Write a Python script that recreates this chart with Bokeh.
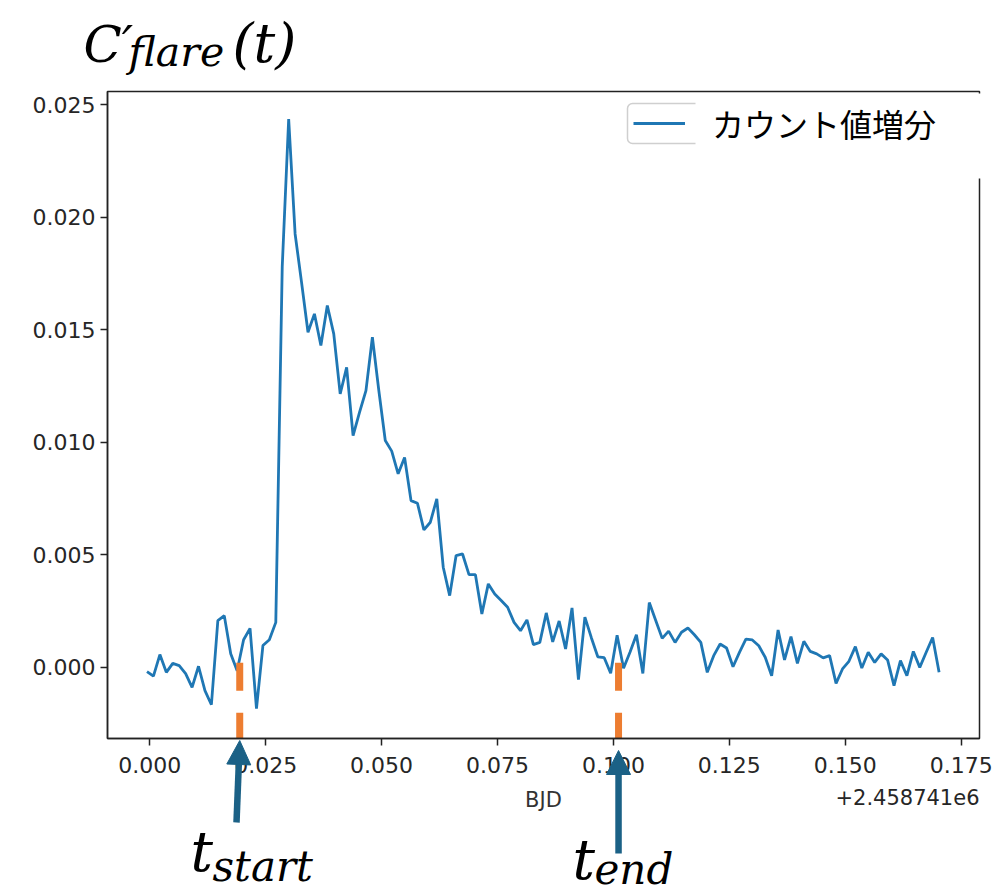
from bokeh.plotting import figure
from bokeh.models import (Range1d, Label, Arrow, NormalHead, BoxAnnotation,
                          Legend, LegendItem, FixedTicker, NumeralTickFormatter)
from bokeh.embed import file_html
from bokeh.resources import INLINE

# ---- data: flare count increment sampled at a 2-minute cadence (BJD - 2458741) ----
T_FIRST = -0.0006
CADENCE = 2 / 1440

counts = [
    -0.0002, -0.0004, 0.00056, -0.00023, 0.00017, 0.00007, -0.00029, -0.0009,
    0.00004, -0.00104, -0.00167, 0.00207, 0.00229, 0.0006, -0.00016, 0.00122,
    0.00172, -0.00184, 0.00096, 0.00122, 0.00199, 0.0178, 0.02436, 0.01925,
    0.0171, 0.01488, 0.0157, 0.01429, 0.01607, 0.01481, 0.01214, 0.01332,
    0.01029, 0.01132, 0.01229, 0.01466, 0.01229, 0.01007, 0.0096, 0.00859,
    0.00932, 0.0074, 0.00728, 0.0061, 0.00644, 0.00748, 0.00444, 0.00318,
    0.00496, 0.00503, 0.00411, 0.00411, 0.00236, 0.0037, 0.00325, 0.00296,
    0.00266, 0.00199, 0.00162, 0.0021, 0.001, 0.0011, 0.00241, 0.00112,
    0.00205, 0.00081, 0.00263, -0.00055, 0.00222, 0.00131, 0.00046, 0.00042,
    -0.00027, 0.00142, -0.00005, 0.00066, 0.00144, -0.00028, 0.00287, 0.00207,
    0.00128, 0.0016, 0.0011, 0.00155, 0.00174, 0.00144, 0.0011, -0.00023,
    0.00051, 0.00103, 0.00085, 0.00002, 0.00066, 0.00125, 0.00121, 0.00095,
    0.00044, -0.00038, 0.00165, 0.00032, 0.00136, 0.00017, 0.00115, 0.0007,
    0.00059, 0.00041, 0.00051, -0.00072, -0.00008, 0.00026, 0.00091, -0.00004,
    0.00066, 0.00021, 0.00059, 0.00032, -0.00082, 0.00029, -0.00038, 0.0007,
    -0.00001, 0.00066, 0.00132, -0.00023,
]
times = [T_FIRST + i * CADENCE for i in range(len(counts))]

# flare start / end times and the level where their markers begin
T_START = 0.0194
T_END = 0.1011
MARK_TOP = 0.0002

X_TICKS = [0.0, 0.025, 0.05, 0.075, 0.1, 0.125, 0.15, 0.175]
Y_TICKS = [0.0, 0.005, 0.01, 0.015, 0.02, 0.025]
X_LABEL = "BJD"
X_OFFSET_TEXT = "+2.458741e6"
LEGEND_LABEL = "カウント値増分"

# ---- layout ----
W, H = 997, 896
FL, FT, FR, FB = 107, 91, 979, 738      # plotting box edges in pixels
X0, X1 = -0.00912, 0.17895              # data limits of the plotting box
Y0, Y1 = -0.00317, 0.02558


def dx(px):
    return X0 + (px - FL) / (FR - FL) * (X1 - X0)


def dy(py):
    return Y1 - (py - FT) / (FB - FT) * (Y1 - Y0)


BLUE = "#1f77b4"
ORANGE = "#ED7D31"
ARROW = "#1B6186"
INK = "#222222"

# the canvas is one frame; the axes sit at fixed positions inside it so that
# annotations can be drawn around the plotting box
p = figure(width=W, height=H, x_range=Range1d(dx(0), dx(W)), y_range=Range1d(dy(H), dy(0)),
           output_backend="svg", toolbar_location=None,
           min_border_left=0, min_border_right=0, min_border_top=0, min_border_bottom=0)
p.background_fill_color = "white"
p.border_fill_color = "white"
p.outline_line_color = None
p.xgrid.visible = False
p.ygrid.visible = False

for ax in (p.xaxis[0], p.yaxis[0]):
    ax.axis_line_color = INK
    ax.axis_line_width = 1.5
    ax.major_tick_line_color = INK
    ax.major_tick_line_width = 1.5
    ax.major_tick_out = 7
    ax.major_tick_in = 0
    ax.minor_tick_out = 0
    ax.minor_tick_in = 0
    ax.major_label_text_font = "DejaVu Sans"
    ax.major_label_text_font_size = "22px"
    ax.major_label_text_color = "#262626"
    ax.formatter = NumeralTickFormatter(format="0.000")

xa, ya = p.xaxis[0], p.yaxis[0]
xa.ticker = FixedTicker(ticks=X_TICKS)
ya.ticker = FixedTicker(ticks=Y_TICKS)
xa.fixed_location = Y0
xa.bounds = (X0, X1)
ya.fixed_location = X0
ya.bounds = (Y0, Y1)
xa.major_label_standoff = 11
ya.major_label_standoff = 5
xa.axis_label = X_LABEL
xa.axis_label_text_font = "DejaVu Sans"
xa.axis_label_text_font_style = "normal"
xa.axis_label_text_font_size = "21px"
xa.axis_label_text_color = "#333333"
xa.axis_label_standoff = 12

# box around the plotting area
p.add_layout(BoxAnnotation(left=X0, right=X1, bottom=Y0, top=Y1, fill_alpha=0,
                           line_color=INK, line_alpha=1, line_width=1.5))

# light curve
line = p.line(times, counts, line_color=BLUE, line_width=2.8)

# dashed markers at flare start and end
p.segment(x0=[T_START, T_END], y0=[MARK_TOP, MARK_TOP], x1=[T_START, T_END], y1=[Y0, Y0],
          line_color=ORANGE, line_width=7, line_dash="28 22")

# offset text of the time axis
p.add_layout(Label(x=dx(FR), y=dy(788), text=X_OFFSET_TEXT, text_align="right",
                   text_baseline="top", text_font="DejaVu Sans", text_font_size="21px",
                   text_color="#262626"))

# legend: frame stub, white patch, then the entry itself
p.add_layout(BoxAnnotation(left=dx(627), right=dx(730), top=dy(103), bottom=dy(143),
                           fill_color="white", fill_alpha=1, line_color="#cfcfcf",
                           line_alpha=1, line_width=1.5, border_radius=5))
p.add_layout(BoxAnnotation(left=dx(695), right=dx(992), top=dy(93), bottom=dy(178),
                           fill_color="white", fill_alpha=1, line_color=None))
legend = Legend(items=[LegendItem(label=LEGEND_LABEL, renderers=[line])],
                location=(633, H - 146), padding=0, spacing=0, margin=0,
                glyph_width=52, glyph_height=30, label_height=30, label_standoff=27,
                border_line_color=None, background_fill_alpha=0,
                label_text_font="Noto Sans CJK JP", label_text_font_size="32px",
                label_text_color="black", label_text_baseline="middle")
p.add_layout(legend)

# arrows pointing at the flare start and end
for x_tail, y_tail, x_tip, y_tip in ((dx(236), dy(822), T_START, dy(740)),
                                     (T_END, dy(853), T_END, dy(750))):
    p.add_layout(Arrow(end=NormalHead(size=24, fill_color=ARROW, line_color=ARROW, line_width=1),
                       x_start=x_tail, y_start=y_tail, x_end=x_tip, y_end=y_tip,
                       line_color=ARROW, line_width=6.5))

# mathematical annotations (baseline given in pixels)
SERIF = "DejaVu Serif"


def math_text(px, baseline, text, size):
    p.add_layout(Label(x=dx(px), y=dy(baseline - 0.36 * size), text=text, text_font=SERIF,
                       text_font_style="italic", text_font_size=f"{size}px",
                       text_align="left", text_baseline="alphabetic", text_color="black"))


math_text(83, 62, "C′", 50)
math_text(128, 66, "flare", 41)
math_text(232, 62, "(t)", 54)

math_text(190, 871, "t", 56)
math_text(212, 881, "start", 42)
math_text(572, 879, "t", 56)
math_text(594, 884, "end", 42)

open("out.html", "w").write(file_html(p, INLINE))
